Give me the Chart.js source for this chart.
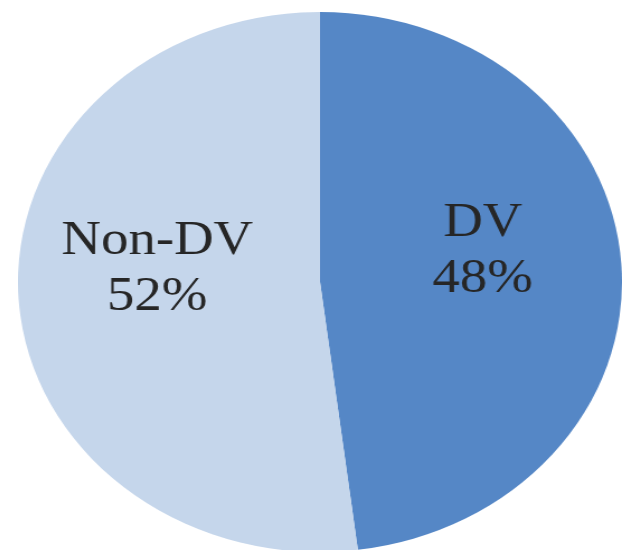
<!DOCTYPE html>
<html>
<head>
<meta charset="utf-8">
<script src="https://cdn.jsdelivr.net/npm/chart.js@4/dist/chart.umd.min.js"></script>
<style>
  html, body { margin: 0; padding: 0; background: #ffffff; overflow: hidden; }
  body { width: 622px; height: 550px; position: relative; }
  /* The pie is drawn round and then widened into an oval */
  #wrap {
    position: absolute; left: 18px; top: 12px;
    width: 540px; height: 540px;
    transform: scaleX(1.1185); transform-origin: 0 0;
  }
</style>
</head>
<body>
<div id="wrap"><canvas id="pie"></canvas></div>
<script>
// Share of cases
const categories = ['DV', 'Non-DV'];
const shares = [48, 52];
const sliceColors = ['#5587C6', '#C5D6EB'];

// Two-line labels (name + percent) placed inside each slice
const sliceLabels = {
  id: 'sliceLabels',
  afterDatasetsDraw(chart) {
    const ctx = chart.ctx;
    const meta = chart.getDatasetMeta(0);
    const values = chart.data.datasets[0].data;
    ctx.save();
    ctx.font = '49px "Liberation Serif", "Times New Roman", serif';
    ctx.fillStyle = '#262626';
    ctx.textAlign = 'center';
    ctx.textBaseline = 'alphabetic';
    meta.data.forEach((arc, i) => {
      const p = arc.getProps(['x', 'y', 'startAngle', 'endAngle', 'outerRadius'], true);
      const mid = (p.startAngle + p.endAngle) / 2;
      const r = p.outerRadius * 0.54;
      const x = p.x + Math.cos(mid) * r;
      const y = p.y + Math.sin(mid) * r - 25;
      ctx.fillText(chart.data.labels[i], x, y - 12);
      ctx.fillText(values[i] + '%', x, y + 44);
    });
    ctx.restore();
  }
};

new Chart(document.getElementById('pie'), {
  type: 'pie',
  data: {
    labels: categories,
    datasets: [{
      data: shares,
      backgroundColor: sliceColors,
      borderWidth: 0,
      hoverOffset: 0
    }]
  },
  options: {
    responsive: true,
    maintainAspectRatio: false,
    animation: false,
    devicePixelRatio: 1,
    layout: { padding: 0 },
    plugins: {
      legend: { display: false },
      tooltip: { enabled: false }
    }
  },
  plugins: [sliceLabels]
});
</script>
</body>
</html>
